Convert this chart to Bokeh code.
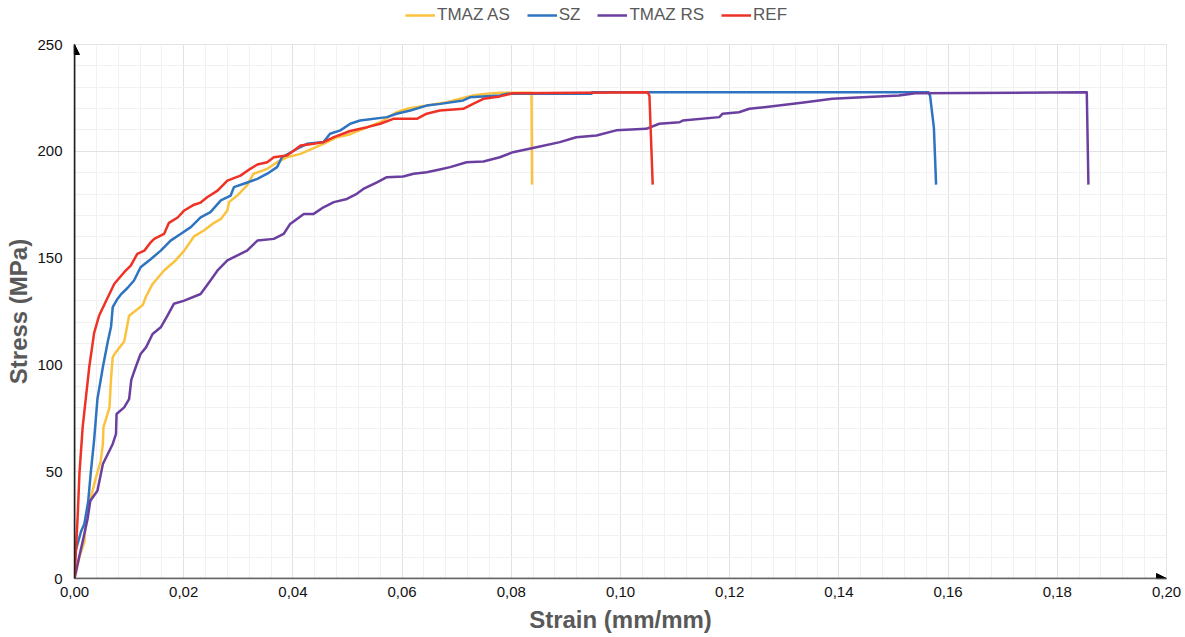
from bokeh.plotting import figure
from bokeh.layouts import column
from bokeh.models import (Range1d, SingleIntervalTicker, CustomJSTickFormatter, Legend, LegendItem,
                          Arrow, NormalHead)
from bokeh.embed import file_html
from bokeh.resources import INLINE

# ---------------- data ----------------
ref_strain = [0, 0.0002, 0.0006, 0.0009, 0.0015, 0.0021, 0.0027, 0.0036, 0.0045, 0.0058, 0.0073, 0.0091,
              0.0103, 0.0115, 0.0128, 0.0140, 0.0146, 0.0164, 0.0173, 0.0189, 0.0201, 0.0219, 0.0231, 0.0243,
              0.0262, 0.0280, 0.0304, 0.0322, 0.0335, 0.0353, 0.0365, 0.0389, 0.0402, 0.0414, 0.0438, 0.0456,
              0.0475, 0.0505, 0.0536, 0.0560, 0.0584, 0.0627, 0.0645, 0.0669, 0.0712, 0.0730, 0.0749, 0.0779,
              0.0803, 0.1050, 0.1053, 0.1059]
ref_stress = [0, 10, 30, 49, 71, 85, 99, 115, 123, 130, 138, 143.4,
              146.5, 152, 153.5, 157.5, 159, 161.3, 166.5, 169, 172.3, 175, 176, 178.5,
              181.6, 186.3, 188.6, 191.8, 193.8, 194.9, 197.2, 198, 200.4, 202.7, 203.5, 204.3,
              206.6, 209.5, 211.3, 212.9, 215.2, 215.2, 217.6, 219.1, 219.9, 222.2, 224.6, 225.7,
              227.2, 227.6, 226, 184.4]

sz_strain = [0, 0.0001, 0.0012, 0.0018, 0.0025, 0.0030, 0.0036, 0.0042, 0.0052, 0.0061, 0.0067, 0.0070,
             0.0079, 0.0085, 0.0097, 0.0109, 0.0121, 0.0140, 0.0158, 0.0176, 0.0195, 0.0213, 0.0231, 0.0249,
             0.0268, 0.0286, 0.0292, 0.0310, 0.0335, 0.0353, 0.0371, 0.0380, 0.0408, 0.0426, 0.0456, 0.0468,
             0.0487, 0.0505, 0.0523, 0.0572, 0.0590, 0.0615, 0.0645, 0.0670, 0.0712, 0.0724, 0.0779, 0.0791,
             0.0947, 0.0948, 0.1564, 0.1567, 0.1574, 0.1578]
sz_stress = [0, 12, 22, 25.5, 36, 50, 65, 84, 99, 111, 118, 127,
             131, 133, 136, 139.5, 145.7, 149.6, 153.5, 158.2, 161.4, 164.5, 169.1, 171.5,
             177, 179.3, 183.2, 184.8, 187.1, 189.5, 192.6, 197.2, 201.2, 203.5, 204.3, 208.2,
             209.8, 212.9, 214.4, 216, 217.6, 219.1, 221.4, 222.2, 223.8, 225.3, 226.1, 226.9,
             226.9, 227.6, 227.6, 226, 211, 184.4]

as_strain = [0, 0.0009, 0.0018, 0.0021, 0.0030, 0.0039, 0.0048, 0.0052, 0.0053, 0.0064, 0.0067, 0.0070,
             0.0073, 0.0091, 0.0100, 0.0125, 0.0131, 0.0143, 0.0164, 0.0185, 0.0201, 0.0219, 0.0237, 0.0255,
             0.0268, 0.0280, 0.0283, 0.0298, 0.0316, 0.0328, 0.0353, 0.0371, 0.0389, 0.0414, 0.0438, 0.0456,
             0.0481, 0.0505, 0.0529, 0.0560, 0.0590, 0.0609, 0.0645, 0.0682, 0.0706, 0.0730, 0.0755, 0.0779,
             0.0837, 0.0838]
as_stress = [0, 10, 17, 28.6, 38, 47, 55, 63, 70.7, 80, 94, 103.5,
             105, 111, 123, 128, 132, 137.9, 144.2, 148.9, 153.5, 160.2, 162.9, 166.4,
             168.3, 172.3, 176.2, 179.3, 184, 189.5, 191.8, 194.9, 197.2, 198.8, 201.5, 203.5,
             206.6, 208, 210.5, 213.6, 218.3, 219.9, 221.4, 223, 224.6, 226.1, 226.9, 227.4,
             227.4, 184.4]

rs_strain = [0, 0.0007, 0.0018, 0.0024, 0.0029, 0.0042, 0.0052, 0.0061, 0.0070, 0.0076, 0.0077, 0.0091,
             0.0100, 0.0104, 0.0112, 0.0121, 0.0131, 0.0143, 0.0158, 0.0170, 0.0182, 0.0201, 0.0231, 0.0249,
             0.0262, 0.0280, 0.0304, 0.0316, 0.0335, 0.0365, 0.0383, 0.0395, 0.0420, 0.0438, 0.0456, 0.0475,
             0.0499, 0.0517, 0.0529, 0.0554, 0.0572, 0.0602, 0.0621, 0.0645, 0.0669, 0.0688, 0.0718, 0.0749,
             0.0779, 0.0803, 0.0846, 0.0889, 0.0919, 0.0956, 0.0992, 0.1047, 0.1071, 0.1108, 0.1114, 0.1181,
             0.1187, 0.1217, 0.1236, 0.1290, 0.1339, 0.1388, 0.1443, 0.1510, 0.1540, 0.1854, 0.1857]
rs_stress = [0, 8.3, 20.8, 28, 36.4, 41.1, 53.6, 58.3, 63, 67.7, 77, 80.1,
             84, 93, 98.9, 105.1, 108.2, 114.5, 117.6, 123, 128.6, 130.1, 133.2, 139.5,
             144.2, 148.9, 152, 153.5, 158.2, 159, 161.3, 166, 170.7, 170.7, 173.8, 176.2,
             177.7, 180.1, 182.4, 185.5, 187.9, 188.2, 189.5, 190.2, 191.5, 192.6, 194.9, 195.2,
             197.2, 199.6, 201.9, 204.3, 206.6, 207.4, 209.8, 210.5, 212.9, 213.6, 214.4, 216,
             217.6, 218.3, 219.9, 221.4, 223, 224.6, 225.3, 226.1, 227.2, 227.6, 184.4]

series_names = ["TMAZ AS", "SZ", "TMAZ RS", "REF"]
x_max = 0.20
y_max = 250

FONT = "Liberation Sans"
colors = ["#FBC23D", "#2E74C0", "#6B3FA0", "#EE3226"]
data = [(as_strain, as_stress), (sz_strain, sz_stress), (rs_strain, rs_stress), (ref_strain, ref_stress)]

# ---------------- legend strip (series drawn off-range, only their legend shows) ----------------
leg_fig = figure(width=1185, height=36, output_backend="svg", toolbar_location=None,
                 x_axis_type=None, y_axis_type=None,
                 x_range=Range1d(0, x_max), y_range=Range1d(y_max * 4, y_max * 5),
                 min_border=0)
leg_fig.outline_line_color = None
leg_fig.background_fill_color = "white"
leg_fig.border_fill_color = "white"
leg_fig.xgrid.visible = False
leg_fig.ygrid.visible = False
leg_renderers = [leg_fig.line(xs, ys, line_color=c, line_width=2.5) for (xs, ys), c in zip(data, colors)]
legend = Legend(items=[LegendItem(label=n, renderers=[r]) for n, r in zip(series_names, leg_renderers)],
                orientation="horizontal", location=(331, 11),
                label_text_font=FONT, label_text_font_size="17px", label_text_color="#595959",
                glyph_width=30, glyph_height=20, label_standoff=2, spacing=17, padding=0, margin=0,
                border_line_color=None, background_fill_alpha=0)
leg_fig.add_layout(legend, "center")

# ---------------- main chart ----------------
p = figure(width=1185, height=601, output_backend="svg", toolbar_location=None,
           x_range=Range1d(0, x_max), y_range=Range1d(0, y_max),
           min_border_left=74, min_border_right=19, min_border_top=8, min_border_bottom=59)
p.background_fill_color = "white"
p.border_fill_color = "white"
p.outline_line_color = "#e4e4e4"
p.outline_line_width = 1

p.xaxis.ticker = SingleIntervalTicker(interval=0.02, num_minor_ticks=5)
p.yaxis.ticker = SingleIntervalTicker(interval=50, num_minor_ticks=5)
p.xaxis.formatter = CustomJSTickFormatter(code="return tick.toFixed(2).replace('.', ',');")
p.yaxis.formatter = CustomJSTickFormatter(code="return Math.round(tick).toString();")

for ax in (p.xaxis[0], p.yaxis[0]):
    ax.major_tick_line_color = None
    ax.minor_tick_line_color = None
    ax.major_tick_in = 0
    ax.major_tick_out = 0
    ax.minor_tick_in = 0
    ax.minor_tick_out = 0
    ax.major_label_text_font = FONT
    ax.major_label_text_font_size = "15px"
    ax.major_label_text_color = "#111111"
    ax.axis_label_text_font = FONT
    ax.axis_label_text_font_style = "bold"
    ax.axis_label_text_font_size = "24px"
    ax.axis_label_text_color = "#595959"
    ax.axis_line_width = 1.5

p.xaxis.axis_label = "Strain (mm/mm)"
p.yaxis.axis_label = "Stress (MPa)"
p.xaxis.axis_line_color = "#666666"
p.yaxis.axis_line_color = "#222222"
p.xaxis.major_label_standoff = 8
p.yaxis.major_label_standoff = 12
p.xaxis.axis_label_standoff = 6
p.yaxis.axis_label_standoff = 2

for g in (p.xgrid[0], p.ygrid[0]):
    g.grid_line_color = "#e2e2e2"
    g.grid_line_width = 1
    g.minor_grid_line_color = "#f1f1f1"
    g.minor_grid_line_width = 1

for (xs, ys), c in zip(data, colors):
    p.line(xs, ys, line_color=c, line_width=2.5, line_join="round")

# axis arrows
p.add_layout(Arrow(end=NormalHead(size=10, fill_color="black", line_color="black"),
                   x_start=0, y_start=0, x_end=x_max, y_end=0, line_color="#666666", line_width=1.5))
p.add_layout(Arrow(end=NormalHead(size=10, fill_color="black", line_color="black"),
                   x_start=0, y_start=0, x_end=0, y_end=y_max, line_color="#222222", line_width=1.5))

layout = column(leg_fig, p, spacing=0)
open("out.html", "w").write(file_html(layout, INLINE))
